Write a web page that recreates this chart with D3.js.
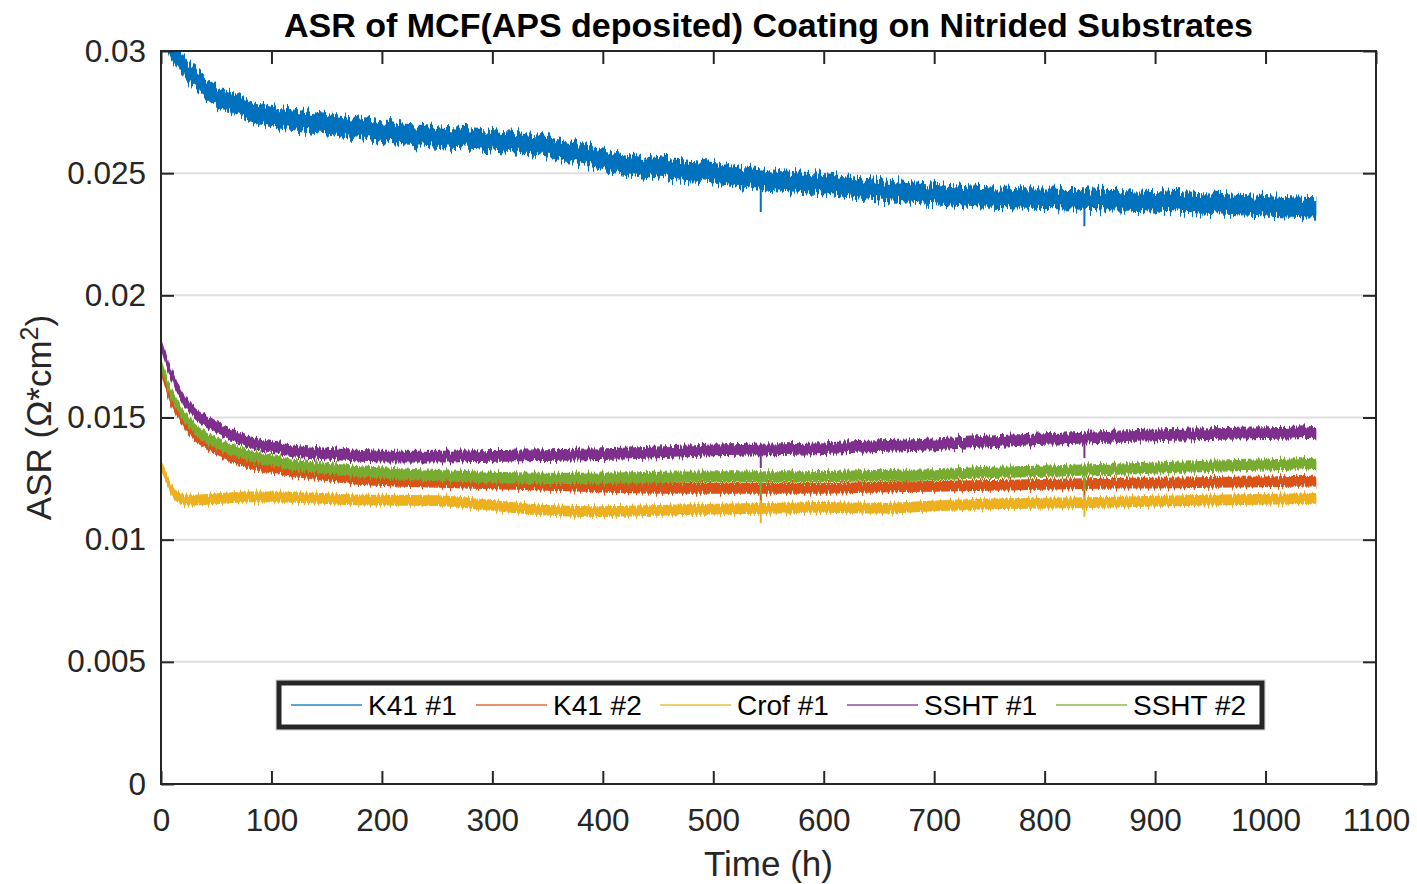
<!DOCTYPE html>
<html>
<head>
<meta charset="utf-8">
<style>
  body { margin: 0; background: #fff; }
  text { font-family: "Liberation Sans", Arial, sans-serif; fill: #262626; }
</style>
</head>
<body>
<div id="chart"></div>
<script src="https://d3js.org/d3.v7.min.js"></script>
<script>
// time axis (h) and the band centres (ASR, ohm*cm2)
const hours = [0, 5, 10, 15, 20, 25, 35, 50, 65, 80, 100, 125, 150, 175, 200, 250, 300, 350, 400, 450,
  500, 550, 600, 650, 700, 750, 800, 850, 900, 950, 1000, 1046]

const k41n1 = [0.0313, 0.0306, 0.0300, 0.02975, 0.0294, 0.0291, 0.0287, 0.02815, 0.0279, 0.02755, 0.0273,
  0.02715, 0.0270, 0.02685, 0.0267, 0.0265, 0.02635, 0.0261, 0.02555, 0.0252, 0.0250, 0.0247, 0.02455,
  0.0243, 0.02415, 0.0240, 0.02395, 0.0239, 0.02385, 0.02375, 0.02365, 0.02355]
const k41n2 = [0.0170, 0.0162, 0.0156, 0.0152, 0.01489, 0.0145, 0.0141, 0.01367, 0.01335, 0.01312, 0.01293,
  0.01276, 0.01262, 0.01248, 0.01242, 0.01234, 0.01228, 0.01222, 0.01215, 0.0121, 0.0121, 0.0121, 0.0121,
  0.01215, 0.01218, 0.01222, 0.01226, 0.0123, 0.01231, 0.01234, 0.01237, 0.0124]
const crof1 = [0.0130, 0.0125, 0.0120, 0.01175, 0.01165, 0.01162, 0.01163, 0.01168, 0.01172, 0.01175, 0.01175,
  0.01172, 0.01168, 0.01163, 0.01162, 0.0116, 0.0114, 0.0112, 0.01115, 0.0112, 0.01125, 0.01128, 0.01132,
  0.01128, 0.01138, 0.01146, 0.0115, 0.01153, 0.01158, 0.01162, 0.01165, 0.01169]
const ssht1 = [0.0180, 0.0173, 0.0167, 0.0162, 0.0158, 0.01545, 0.0150, 0.0146, 0.01425, 0.0140, 0.0138,
  0.01362, 0.01352, 0.01345, 0.0134, 0.0134, 0.01343, 0.01346, 0.0135, 0.01357, 0.01365, 0.0137, 0.01375,
  0.01383, 0.0139, 0.01402, 0.01412, 0.0142, 0.01427, 0.01432, 0.01436, 0.01441]
const ssht2 = [0.0172, 0.0165, 0.0159, 0.0155, 0.01514, 0.0148, 0.01435, 0.01394, 0.01365, 0.01345, 0.01325,
  0.01305, 0.01292, 0.0128, 0.01273, 0.01262, 0.01255, 0.01251, 0.01252, 0.01255, 0.01257, 0.01257, 0.01258,
  0.01262, 0.01265, 0.01275, 0.01281, 0.01287, 0.01293, 0.013, 0.01306, 0.01312]

// the two short dips seen in every trace
const spikeHours = [543, 836]
const k41n1Spikes = [0.02341, 0.02283]
const k41n2Spikes = [0.0115, 0.01162]
const crof1Spikes = [0.01068, 0.01094]
const ssht1Spikes = [0.01293, 0.01334]
const ssht2Spikes = [0.01182, 0.0120]

// half width of the noisy band
const bandHalf = [0.00042, 0.00022, 0.00022, 0.00024, 0.00023]

const seriesNames = ["K41 #1", "K41 #2", "Crof #1", "SSHT #1", "SSHT #2"]
const colors = ["#0072BD", "#D95319", "#EDB120", "#7E2F8E", "#77AC30"]

const xTicks = [0, 100, 200, 300, 400, 500, 600, 700, 800, 900, 1000, 1100]
const yTicks = [0, 0.005, 0.01, 0.015, 0.02, 0.025, 0.03]
const yTickLabels = ["0", "0.005", "0.01", "0.015", "0.02", "0.025", "0.03"]

const width = 1417
const height = 884
const plotLeft = 161, plotRight = 1376, plotTop = 51, plotBottom = 784

const values = [k41n1, k41n2, crof1, ssht1, ssht2]
const spikes = [k41n1Spikes, k41n2Spikes, crof1Spikes, ssht1Spikes, ssht2Spikes]

const xScale = d3.scaleLinear().domain([0, 1100]).range([plotLeft, plotRight])
const yScale = d3.scaleLinear().domain([0, 0.03]).range([plotBottom, plotTop])

const svg = d3.select("#chart").append("svg")
  .attr("width", width).attr("height", height)

const defs = svg.append("defs")
defs.append("clipPath").attr("id", "plotClip")
  .append("rect").attr("x", plotLeft).attr("y", plotTop)
  .attr("width", plotRight - plotLeft).attr("height", plotBottom - plotTop)

// jagged edges so the bands look like noisy measurements
const addJag = (id, scale, seed) => {
  const f = defs.append("filter").attr("id", id)
    .attr("filterUnits", "userSpaceOnUse")
    .attr("x", 0).attr("y", 0).attr("width", width).attr("height", height)
    .attr("color-interpolation-filters", "sRGB")
  f.append("feTurbulence").attr("type", "fractalNoise")
    .attr("baseFrequency", "0.5 0.004").attr("numOctaves", 2).attr("seed", seed).attr("result", "n")
  const ct = f.append("feComponentTransfer").attr("in", "n").attr("result", "n2")
  ct.append("feFuncG").attr("type", "linear").attr("slope", 0).attr("intercept", 0.5)
  ct.append("feFuncA").attr("type", "linear").attr("slope", 0).attr("intercept", 1)
  f.append("feDisplacementMap").attr("in", "SourceGraphic").attr("in2", "n2")
    .attr("scale", scale).attr("xChannelSelector", "G").attr("yChannelSelector", "R")
}
addJag("jagBig", 20, 4)
addJag("jagSmall", 11, 9)

// grid
svg.append("g").selectAll("line")
  .data(yTicks.filter(d => d > 0 && d < 0.03))
  .enter().append("line")
  .attr("x1", plotLeft).attr("x2", plotRight)
  .attr("y1", d => yScale(d)).attr("y2", d => yScale(d))
  .attr("stroke", "#dfdfdf").attr("stroke-width", 2)

// series bands
const plot = svg.append("g").attr("clip-path", "url(#plotClip)")
values.forEach((vals, i) => {
  const pts = hours.map((h, j) => [h, vals[j]])
  const area = d3.area()
    .x(d => xScale(d[0]))
    .y0(d => yScale(d[1] - bandHalf[i]))
    .y1(d => yScale(d[1] + bandHalf[i]))
    .curve(d3.curveMonotoneX)
  const g = plot.append("g").attr("filter", i === 0 ? "url(#jagBig)" : "url(#jagSmall)")
  g.append("path").datum(pts).attr("d", area).attr("fill", colors[i])

  const at = d3.scaleLinear().domain(hours).range(vals)
  plot.append("g").selectAll("line")
    .data(spikeHours.map((h, k) => [h, spikes[i][k]]))
    .enter().append("line")
    .attr("x1", d => xScale(d[0])).attr("x2", d => xScale(d[0]))
    .attr("y1", d => yScale(at(d[0])))
    .attr("y2", d => yScale(d[1]))
    .attr("stroke", colors[i]).attr("stroke-width", 2)
})

// axes
const tickLen = 13
const xAxis = d3.axisBottom(xScale).tickValues(xTicks).tickFormat(d3.format("d"))
  .tickSizeInner(-tickLen).tickSizeOuter(0).tickPadding(25)
const yAxis = d3.axisLeft(yScale).tickValues(yTicks).tickFormat((d, i) => yTickLabels[i])
  .tickSizeInner(-tickLen).tickSizeOuter(0).tickPadding(15)
const xTop = d3.axisTop(xScale).tickValues(xTicks).tickFormat("").tickSizeInner(-tickLen).tickSizeOuter(0)
const yRight = d3.axisRight(yScale).tickValues(yTicks).tickFormat("").tickSizeInner(-tickLen).tickSizeOuter(0)

const styleAxis = g => {
  g.select(".domain").remove()
  g.selectAll(".tick line").attr("stroke", "#262626").attr("stroke-width", 2)
  g.selectAll(".tick text").attr("fill", "#262626")
    .style("font-family", "'Liberation Sans', Arial, sans-serif").style("font-size", "31.5px")
}
svg.append("g").attr("transform", "translate(0," + plotBottom + ")").call(xAxis).call(styleAxis)
svg.append("g").attr("transform", "translate(" + plotLeft + ",0)").call(yAxis).call(styleAxis)
svg.append("g").attr("transform", "translate(0," + plotTop + ")").call(xTop).call(styleAxis)
svg.append("g").attr("transform", "translate(" + plotRight + ",0)").call(yRight).call(styleAxis)

svg.append("rect")
  .attr("x", plotLeft).attr("y", plotTop).attr("width", plotRight - plotLeft).attr("height", plotBottom - plotTop)
  .attr("fill", "none").attr("stroke", "#262626").attr("stroke-width", 2)

// labels
svg.append("text")
  .attr("x", (plotLeft + plotRight) / 2).attr("y", 37)
  .attr("text-anchor", "middle")
  .style("font-size", "34px").style("font-weight", "bold").style("fill", "#000")
  .text("ASR of MCF(APS deposited) Coating on Nitrided Substrates")

svg.append("text")
  .attr("x", (plotLeft + plotRight) / 2).attr("y", 876)
  .attr("text-anchor", "middle")
  .style("font-size", "35px")
  .text("Time (h)")

const yl = svg.append("text")
  .attr("transform", "translate(51," + (plotTop + plotBottom) / 2 + ") rotate(-90)")
  .attr("text-anchor", "middle")
  .style("font-size", "35px")
yl.append("tspan").text("ASR (Ω*cm")
yl.append("tspan").attr("dy", -13).style("font-size", "25px").text("2")
yl.append("tspan").attr("dy", 13).text(")")

// legend
const legend = svg.append("g")
legend.append("rect")
  .attr("x", 276).attr("y", 680).attr("width", 989).attr("height", 50)
  .attr("fill", "none").attr("stroke", "#cfcfcf").attr("stroke-width", 1)
legend.append("rect")
  .attr("x", 279).attr("y", 683).attr("width", 983).attr("height", 44)
  .attr("fill", "#fff").attr("stroke", "#262626").attr("stroke-width", 5)

const legendX = [291, 476, 660, 847, 1056]
seriesNames.forEach((name, i) => {
  legend.append("line")
    .attr("x1", legendX[i]).attr("x2", legendX[i] + 71)
    .attr("y1", 705).attr("y2", 705)
    .attr("stroke", colors[i]).attr("stroke-width", 1.5).attr("opacity", 0.85)
  legend.append("text")
    .attr("x", legendX[i] + 77).attr("y", 715)
    .style("font-size", "28px").style("fill", "#000")
    .text(name)
})
</script>
</body>
</html>
